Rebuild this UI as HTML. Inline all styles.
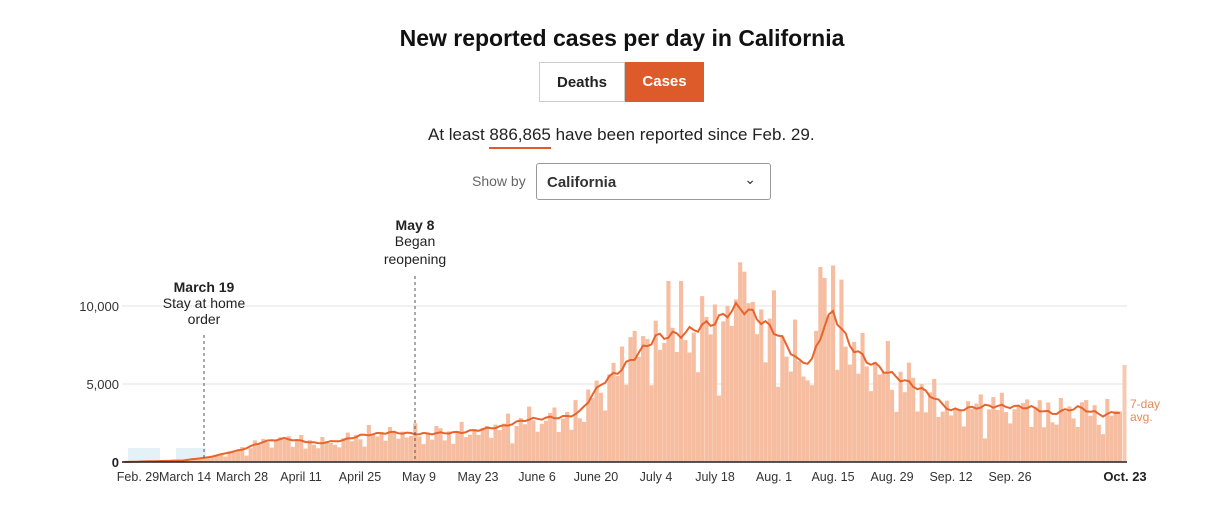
<!DOCTYPE html><html><head><meta charset="utf-8"><style>
body{margin:0;background:#fff;font-family:"Liberation Sans",sans-serif;width:1219px;height:520px;overflow:hidden;position:relative}
.a{position:absolute}
h1{position:absolute;top:25px;left:0;width:1244px;text-align:center;margin:0;font-size:23px;font-weight:bold;color:#111}
.btn{position:absolute;top:62px;height:40px;line-height:40px;text-align:center;font-size:15px;font-weight:bold}
</style></head><body>
<h1>New reported cases per day in California</h1>
<div class="btn" style="left:539px;width:86px;border:1px solid #ccc;box-sizing:border-box;color:#222">Deaths</div>
<div class="btn" style="left:625px;width:79px;background:#dd5a2b;color:#fff">Cases</div>
<div class="a" style="top:125px;left:428px;font-size:17px;color:#222">At least <span style="border-bottom:2px solid #dd5a2b;padding-bottom:3px">886,865</span> have been reported since Feb. 29.</div>
<div class="a" style="top:173px;left:472px;font-size:14px;color:#666">Show by</div>
<div class="a" style="top:163px;left:536px;width:235px;height:37px;border:1px solid #999;border-radius:3px;font-size:15px;font-weight:bold;color:#333;line-height:37px;padding-left:10px;box-sizing:border-box">California<span style="position:absolute;right:14px;top:-3px;font-weight:normal;font-size:14px">&#8964;</span></div>
<svg class="a" style="left:0;top:0" width="1219" height="520" id="s"></svg>
<script>
var s=document.getElementById('s'),h='';
function X(d){return 124+d*4.22}function Y(v){return 462-v*15.6}
h+='<line x1="122" x2="1127" y1="306" y2="306" stroke="#e3e3e3"/><line x1="122" x2="1127" y1="384" y2="384" stroke="#e3e3e3"/>';
h+='<rect x="128" y="448" width="32" height="14" fill="#e4f2f7"/><rect x="176" y="448" width="30" height="14" fill="#e4f2f7"/>';
var k=[[0,0],[14,.1],[20,.3],[28,.8],[33,1.3],[38,1.5],[46,1.2],[52,1.4],[56,1.7],[63,1.9],[70,1.8],[80,1.9],[90,2.3],[95,2.7],[99,2.8],[105,2.9],[108,3.2],[113,5],[118,6],[122,7],[126,8],[132,8.2],[140,9],[145,9.9],[148,9.7],[155,8.2],[160,6.4],[163,6.5],[166,8.8],[168,9.6],[172,7.5],[176,6.5],[182,5.6],[190,4.5],[196,3.3],[205,3.6],[215,3.5],[220,3.1],[226,3.5],[232,3],[237,3.3]];
function A(d){for(var i=1;i<k.length;i++)if(d<=k[i][0]){var a=k[i-1],b=k[i];return a[1]+(b[1]-a[1])*(d-a[0])/(b[0]-a[0]);}return 3.3}
var sp={129:11.6,130:8.6,132:11.6,138:9.3,146:12.8,147:12.2,165:12.5,166:11.8,168:12.6,143:10,120:8};
var pts=[];
for(var d=0;d<237;d++){var a=A(d);var n=1+0.22*Math.sin(d*2.3)+0.15*Math.cos(d*5.1)-((d%7==1)?0.25:0);var v=sp[d]||a*n;
h+='<rect x="'+(X(d)-2).toFixed(1)+'" y="'+Y(v).toFixed(1)+'" width="4.1" height="'+(462-Y(v)).toFixed(1)+'" fill="#f7bda0"/>';pts.push(X(d).toFixed(1)+','+Y(a*(1+0.03*Math.sin(d*1.7))).toFixed(1));}
h+='<rect x="1122.5" y="365" width="4" height="97" fill="#f7c9b2"/>';
h+='<polyline points="'+pts.join(' ')+'" fill="none" stroke="#e8642c" stroke-width="2"/>';
h+='<line x1="122" x2="1127" y1="462" y2="462" stroke="#222" stroke-width="1.5"/>';
h+='<line x1="204" x2="204" y1="335" y2="462" stroke="#555" stroke-dasharray="3,3"/><line x1="415" x2="415" y1="276" y2="462" stroke="#555" stroke-dasharray="3,3"/>';
var L=[[138,'Feb. 29'],[185,'March 14'],[242,'March 28'],[301,'April 11'],[360,'April 25'],[419,'May 9'],[478,'May 23'],[537,'June 6'],[596,'June 20'],[656,'July 4'],[715,'July 18'],[774,'Aug. 1'],[833,'Aug. 15'],[892,'Aug. 29'],[951,'Sep. 12'],[1010,'Sep. 26']];
L.forEach(function(l){h+='<text x="'+l[0]+'" y="481" text-anchor="middle" font-size="12.5" fill="#333">'+l[1]+'</text>'});
h+='<text x="1125" y="481" text-anchor="middle" font-size="13" font-weight="bold" fill="#222">Oct. 23</text>';
h+='<text x="119" y="311" text-anchor="end" font-size="13" fill="#333">10,000</text><text x="119" y="389" text-anchor="end" font-size="13" fill="#333">5,000</text><text x="119" y="467" text-anchor="end" font-size="13" font-weight="bold" fill="#222">0</text>';
h+='<g font-size="14" text-anchor="middle" fill="#222"><text x="204" y="292" font-weight="bold">March 19</text><text x="204" y="308">Stay at home</text><text x="204" y="324">order</text><text x="415" y="230" font-weight="bold">May 8</text><text x="415" y="246">Began</text><text x="415" y="264">reopening</text></g>';
h+='<text x="1130" y="408" font-size="12" fill="#e8885a">7-day</text><text x="1130" y="421" font-size="12" fill="#e8885a">avg.</text>';
s.innerHTML=h;
</script>
</body></html>
